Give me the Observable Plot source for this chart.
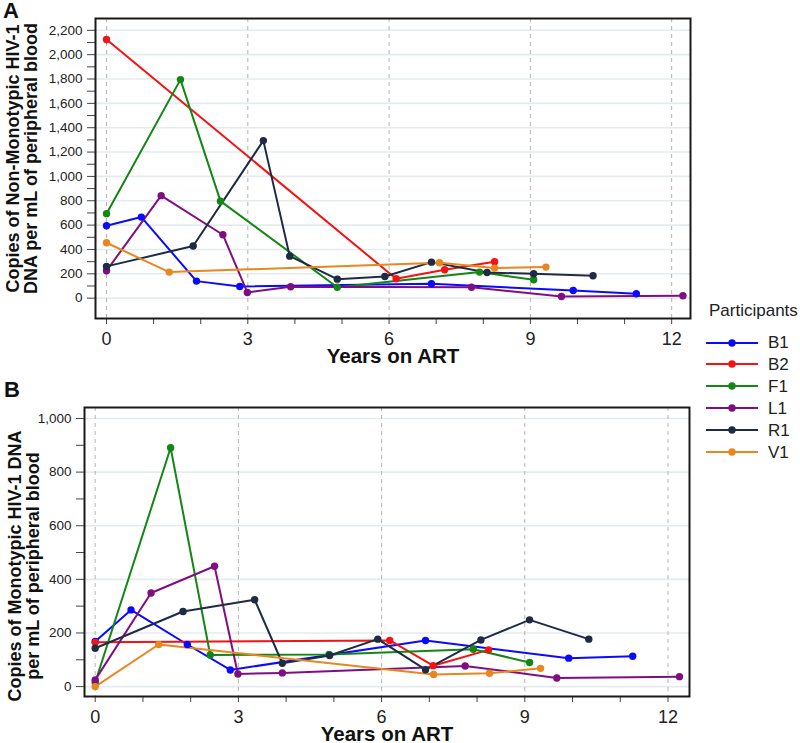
<!DOCTYPE html>
<html><head><meta charset="utf-8">
<script src="https://cdn.jsdelivr.net/npm/d3@7"></script>
<script src="https://cdn.jsdelivr.net/npm/@observablehq/plot@0.6"></script>
<style>
body{margin:0;background:#fff;font-family:"Liberation Sans",Arial,sans-serif;}
#wrap{position:relative;width:800px;height:743px;overflow:hidden;background:#fff;}
.panel{position:absolute;left:0;}
.lbl{position:absolute;font-weight:bold;font-size:22px;line-height:1;color:#111;}
.leg{position:absolute;font-size:17px;line-height:1;color:#222;}
</style></head><body>
<div id="wrap">
 <div id="plotB" class="panel" style="top:360px"></div>
 <div id="plotA" class="panel" style="top:0"></div>
 <div class="lbl" style="left:3px;top:0px">A</div>
 <div class="lbl" style="left:4px;top:379px">B</div>
 <div id="legend"></div>
</div>
<script>
const participants = ["B1", "B2", "F1", "L1", "R1", "V1"];
const colors = ["#0a0aff", "#f51212", "#138613", "#7f0f80", "#1e2a46", "#e8871e"];

// Panel A: non-monotypic HIV-1 DNA (copies per mL)
const B1_yearsA = [0, 0.74, 1.91, 2.83, 6.9, 9.91, 11.25];
const B1_copiesA = [595, 666, 140, 96, 118, 63, 36];
const B2_yearsA = [0, 6.15, 7.18, 8.24];
const B2_copiesA = [2124, 159, 233, 299];
const F1_yearsA = [0, 1.57, 2.42, 4.9, 7.92, 9.07];
const F1_copiesA = [694, 1795, 797, 90, 214, 151];
const L1_yearsA = [0, 1.16, 2.47, 2.99, 3.91, 7.75, 9.66, 12.24];
const L1_copiesA = [225, 842, 521, 47, 94, 90, 14, 20];
const R1_yearsA = [0, 1.84, 3.33, 3.89, 4.9, 5.91, 6.9, 8.08, 9.07, 10.33];
const R1_copiesA = [261, 428, 1294, 345, 156, 178, 296, 211, 200, 184];
const V1_yearsA = [0, 1.33, 7.07, 8.24, 9.33];
const V1_copiesA = [455, 214, 291, 247, 255];

// Panel B: monotypic HIV-1 DNA (copies per mL)
const B1_yearsB = [0, 0.75, 1.93, 2.83, 6.92, 9.92, 11.26];
const B1_copiesB = [168, 286, 157, 62, 172, 106, 113];
const B2_yearsB = [0, 6.17, 7.08, 8.24];
const B2_copiesB = [165, 172, 78, 137];
const F1_yearsB = [0, 1.58, 2.41, 4.9, 7.92, 9.1];
const F1_copiesB = [15, 891, 118, 120, 139, 90];
const L1_yearsB = [0, 1.17, 2.5, 2.99, 3.92, 7.75, 9.67, 12.24];
const L1_copiesB = [25, 349, 449, 47, 51, 77, 32, 37];
const R1_yearsB = [0, 1.84, 3.34, 3.92, 4.91, 5.92, 6.92, 8.08, 9.1, 10.34];
const R1_copiesB = [143, 280, 324, 87, 116, 177, 63, 174, 249, 177];
const V1_yearsB = [0, 1.33, 7.09, 8.26, 9.33];
const V1_copiesB = [0, 157, 45, 50, 68];

const xTicks = [0, 1, 2, 3, 4, 5, 6, 7, 8, 9, 10, 11, 12];
const xLabels = [0, 3, 6, 9, 12];
const yTicksA = d3.range(0, 2201, 100);
const yTicksB = d3.range(0, 1001, 100);
const xTitle = "Years on ART";
const yTitleA = "Copies of Non-Monotypic HIV-1\nDNA per mL of peripheral blood";
const yTitleB = "Copies of Monotypic HIV-1 DNA\nper mL of peripheral blood";
const legendTitle = "Participants";

const seriesA = [[B1_yearsA, B1_copiesA], [B2_yearsA, B2_copiesA], [F1_yearsA, F1_copiesA], [L1_yearsA, L1_copiesA], [R1_yearsA, R1_copiesA], [V1_yearsA, V1_copiesA]];
const seriesB = [[B1_yearsB, B1_copiesB], [B2_yearsB, B2_copiesB], [F1_yearsB, F1_copiesB], [L1_yearsB, L1_copiesB], [R1_yearsB, R1_copiesB], [V1_yearsB, V1_copiesB]];

function rows(series) {
  return participants.flatMap((p, i) => series[i][0].map((x, j) => ({p, x, y: series[i][1][j]})));
}
const fmt = d3.format(",");

function panel(series, cfg) {
  const data = rows(series);
  return Plot.plot({
    width: 700, height: cfg.height,
    marginLeft: cfg.ml, marginRight: cfg.mr, marginTop: cfg.mt, marginBottom: cfg.mb,
    x: {domain: cfg.xd},
    y: {domain: cfg.yd},
    color: {domain: participants, range: colors},
    style: {fontFamily: "'Liberation Sans', Arial, sans-serif", background: "transparent", color: "#222", overflow: "visible"},
    marks: [
      Plot.ruleY(cfg.yticks.filter(d => d % 200 === 0), {stroke: "#e4ebef", strokeWidth: 1.6}),
      Plot.ruleX(xLabels, {stroke: "#b4b4b4", strokeWidth: 1, strokeDasharray: "4,4"}),
      Plot.axisY({ticks: cfg.yticks, tickFormat: d => d % 200 === 0 ? fmt(d) : "", tickSize: 8, tickPadding: 5, fontSize: 13.5, label: null, stroke: "#444"}),
      Plot.axisX({ticks: xTicks, tickFormat: d => xLabels.includes(d) ? String(d) : "", tickSize: 6, tickPadding: 8, fontSize: 18, label: null, stroke: "#444"}),
      Plot.line(data, {x: "x", y: "y", z: "p", stroke: "p", strokeWidth: 2}),
      Plot.dot(data, {x: "x", y: "y", fill: "p", r: 3.7}),
      Plot.frame({stroke: "#1a1a1a", strokeWidth: 2}),
      Plot.text([xTitle], {frameAnchor: "bottom", dy: 44, fontSize: 20.5, fontWeight: "bold", fill: "#111", textAnchor: "middle"}),
      Plot.text([cfg.ytitle], {frameAnchor: "left", textAnchor: "middle", rotate: -90, dx: cfg.tdx, dy: cfg.tdy, fontSize: 18, fontWeight: "bold", lineHeight: 1.0, fill: "#111"})
    ]
  });
}

document.getElementById("plotA").appendChild(panel(seriesA, {
  height: 360, ml: 95, mr: 10, mt: 18, mb: 42,
  xd: [-0.234, 12.4], yd: [-167, 2297], yticks: yTicksA,
  ytitle: yTitleA, tdx: -73, tdy: -10
}));
document.getElementById("plotB").appendChild(panel(seriesB, {
  height: 383, ml: 84, mr: 11, mt: 47, mb: 47,
  xd: [-0.224, 12.45], yd: [-37, 1041], yticks: yTicksB,
  ytitle: yTitleB, tdx: -60, tdy: 14
}));

// Legend
const leg = document.getElementById("legend");
const t = document.createElement("div");
t.className = "leg"; t.textContent = legendTitle;
t.style.left = "709px"; t.style.top = "302px";
leg.appendChild(t);
participants.forEach((p, i) => {
  const cy = 342.5 + i * 21.9;
  const svg = d3.create("svg").attr("width", 54).attr("height", 10)
    .style("position", "absolute").style("left", "705px").style("top", (cy - 5) + "px");
  svg.append("line").attr("x1", 1).attr("x2", 53).attr("y1", 5).attr("y2", 5).attr("stroke", colors[i]).attr("stroke-width", 2);
  svg.append("circle").attr("cx", 27).attr("cy", 5).attr("r", 3.7).attr("fill", colors[i]);
  leg.appendChild(svg.node());
  const d = document.createElement("div");
  d.className = "leg"; d.textContent = p;
  d.style.left = "768px"; d.style.top = (cy - 8.5) + "px";
  leg.appendChild(d);
});
</script>
</body></html>
